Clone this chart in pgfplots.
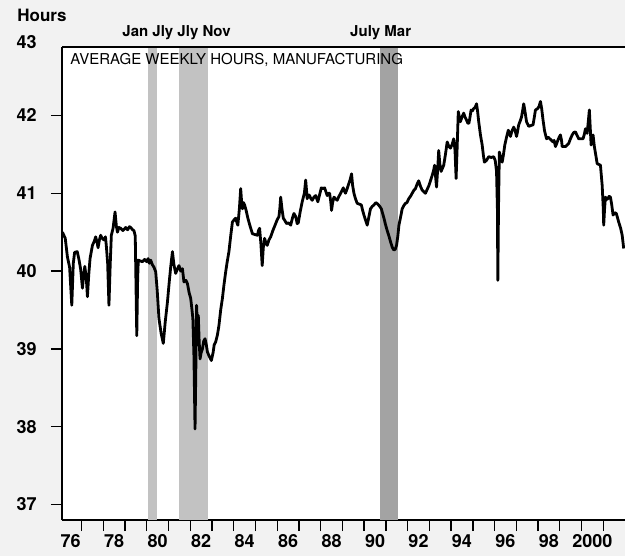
\documentclass[border=0pt]{standalone}
\usepackage{pgfplots}
\pgfplotsset{compat=1.18}
\usepackage{fontspec}
\setmainfont{TeX Gyre Heros}
\usetikzlibrary{backgrounds}

\pgfplotstableread{
year hours
1976.12 40.50
1976.25 40.42
1976.35 40.18
1976.45 40.05
1976.55 39.56
1976.62 40.10
1976.68 40.24
1976.80 40.25
1976.88 40.15
1976.96 40.02
1977.04 39.78
1977.10 39.95
1977.15 40.06
1977.22 39.90
1977.27 39.67
1977.33 39.95
1977.39 40.16
1977.50 40.33
1977.58 40.38
1977.65 40.44
1977.72 40.36
1977.76 40.30
1977.82 40.40
1977.88 40.46
1977.95 40.42
1978.03 40.40
1978.10 40.44
1978.14 40.32
1978.20 40.10
1978.26 39.56
1978.32 40.10
1978.37 40.46
1978.45 40.55
1978.54 40.76
1978.60 40.58
1978.65 40.50
1978.72 40.56
1978.80 40.55
1978.90 40.52
1979.03 40.56
1979.12 40.53
1979.20 40.57
1979.26 40.56
1979.35 40.53
1979.41 40.52
1979.47 40.45
1979.54 39.17
1979.58 39.90
1979.61 40.14
1979.70 40.13
1979.80 40.12
1979.90 40.15
1980.00 40.12
1980.06 40.16
1980.12 40.10
1980.18 40.14
1980.26 40.08
1980.33 40.05
1980.41 39.99
1980.48 39.75
1980.56 39.39
1980.66 39.20
1980.76 39.07
1980.85 39.35
1980.95 39.60
1981.03 39.85
1981.10 40.05
1981.18 40.25
1981.25 40.08
1981.33 39.97
1981.40 40.02
1981.48 40.07
1981.56 40.00
1981.64 40.03
1981.71 39.86
1981.80 39.88
1981.87 39.84
1981.95 39.72
1982.02 39.65
1982.08 39.50
1982.12 39.39
1982.17 38.90
1982.22 37.97
1982.26 38.80
1982.29 39.56
1982.33 39.30
1982.37 39.43
1982.41 39.10
1982.45 38.87
1982.50 38.95
1982.56 39.00
1982.62 39.10
1982.68 39.13
1982.74 39.05
1982.79 38.96
1982.88 38.90
1982.97 38.85
1983.05 38.95
1983.10 39.05
1983.17 39.09
1983.25 39.18
1983.32 39.30
1983.40 39.50
1983.48 39.65
1983.55 39.82
1983.63 39.99
1983.70 40.12
1983.78 40.25
1983.86 40.45
1983.94 40.63
1984.02 40.66
1984.09 40.68
1984.15 40.62
1984.19 40.59
1984.26 40.80
1984.32 41.06
1984.36 40.90
1984.40 40.80
1984.45 40.88
1984.50 40.85
1984.57 40.78
1984.65 40.68
1984.75 40.58
1984.86 40.48
1984.97 40.47
1985.09 40.46
1985.14 40.52
1985.19 40.55
1985.25 40.35
1985.31 40.07
1985.36 40.30
1985.42 40.42
1985.48 40.36
1985.54 40.33
1985.62 40.40
1985.70 40.44
1985.80 40.52
1985.93 40.61
1986.00 40.66
1986.08 40.70
1986.12 40.80
1986.16 40.95
1986.22 40.80
1986.28 40.68
1986.35 40.65
1986.43 40.61
1986.52 40.62
1986.62 40.59
1986.70 40.68
1986.77 40.74
1986.85 40.70
1986.92 40.61
1986.97 40.62
1987.05 40.75
1987.15 40.89
1987.25 41.00
1987.31 41.17
1987.38 40.93
1987.44 40.98
1987.49 40.97
1987.55 40.93
1987.61 40.91
1987.69 40.95
1987.77 40.97
1987.87 40.89
1987.95 40.98
1988.03 41.07
1988.10 41.06
1988.18 41.07
1988.24 41.02
1988.30 40.97
1988.36 41.00
1988.41 41.00
1988.46 40.90
1988.50 40.78
1988.55 40.88
1988.61 40.95
1988.68 40.93
1988.76 40.91
1988.84 40.96
1988.92 41.00
1989.04 41.07
1989.09 41.03
1989.14 41.00
1989.22 41.06
1989.30 41.13
1989.36 41.18
1989.42 41.25
1989.47 41.10
1989.53 41.00
1989.60 40.93
1989.68 40.87
1989.78 40.86
1989.87 40.85
1989.93 40.78
1989.99 40.72
1990.07 40.65
1990.14 40.59
1990.22 40.70
1990.29 40.80
1990.37 40.83
1990.45 40.85
1990.54 40.88
1990.63 40.86
1990.72 40.83
1990.79 40.80
1990.85 40.74
1990.91 40.68
1990.98 40.60
1991.06 40.52
1991.14 40.45
1991.21 40.38
1991.30 40.30
1991.37 40.27
1991.43 40.28
1991.49 40.33
1991.55 40.45
1991.60 40.59
1991.68 40.70
1991.75 40.80
1991.82 40.84
1991.90 40.87
1991.97 40.88
1992.05 40.93
1992.13 40.96
1992.21 41.00
1992.29 41.04
1992.36 41.06
1992.44 41.12
1992.51 41.16
1992.59 41.09
1992.67 41.04
1992.74 41.02
1992.82 41.00
1992.90 41.05
1992.98 41.10
1993.05 41.16
1993.13 41.23
1993.20 41.30
1993.24 41.36
1993.29 41.20
1993.33 41.08
1993.38 41.30
1993.43 41.55
1993.48 41.38
1993.54 41.28
1993.60 41.32
1993.66 41.36
1993.74 41.50
1993.82 41.66
1993.90 41.60
1993.97 41.58
1994.05 41.63
1994.12 41.70
1994.18 41.55
1994.23 41.19
1994.28 41.60
1994.33 42.05
1994.38 41.98
1994.43 41.92
1994.50 41.98
1994.58 42.03
1994.64 41.98
1994.71 41.94
1994.77 41.90
1994.82 41.90
1994.87 41.98
1994.92 42.07
1994.98 42.06
1995.04 42.09
1995.10 42.10
1995.17 42.15
1995.22 42.05
1995.27 41.92
1995.35 41.75
1995.43 41.62
1995.48 41.50
1995.53 41.40
1995.62 41.42
1995.73 41.47
1995.85 41.46
1995.96 41.47
1996.03 41.42
1996.09 41.28
1996.13 40.80
1996.15 39.88
1996.18 40.80
1996.22 41.53
1996.29 41.45
1996.35 41.40
1996.41 41.50
1996.47 41.62
1996.55 41.72
1996.63 41.81
1996.68 41.78
1996.73 41.73
1996.80 41.80
1996.88 41.85
1996.95 41.80
1997.01 41.73
1997.06 41.80
1997.11 41.88
1997.18 41.93
1997.24 41.98
1997.30 42.08
1997.34 42.15
1997.40 42.05
1997.47 41.92
1997.57 41.86
1997.67 41.87
1997.77 41.88
1997.83 41.98
1997.88 42.07
1997.99 42.09
1998.05 42.12
1998.11 42.18
1998.17 42.08
1998.23 41.94
1998.30 41.80
1998.39 41.70
1998.47 41.72
1998.54 41.70
1998.62 41.68
1998.69 41.66
1998.74 41.68
1998.80 41.60
1998.86 41.64
1998.91 41.68
1998.97 41.72
1999.03 41.75
1999.08 41.68
1999.11 41.60
1999.19 41.60
1999.26 41.60
1999.34 41.62
1999.41 41.64
1999.49 41.70
1999.57 41.75
1999.64 41.78
1999.72 41.79
1999.80 41.74
1999.87 41.70
1999.97 41.70
2000.07 41.70
2000.13 41.76
2000.18 41.83
2000.26 41.77
2000.32 41.95
2000.36 42.07
2000.40 41.85
2000.44 41.62
2000.49 41.70
2000.53 41.75
2000.59 41.60
2000.65 41.50
2000.72 41.38
2000.80 41.37
2000.87 41.36
2000.95 41.10
2001.00 40.80
2001.02 40.59
2001.06 40.80
2001.10 40.95
2001.16 40.92
2001.21 40.93
2001.27 40.96
2001.33 40.95
2001.39 40.85
2001.45 40.72
2001.53 40.75
2001.60 40.74
2001.66 40.68
2001.71 40.63
2001.80 40.55
2001.87 40.46
2001.94 40.29
}\hoursdata

\begin{document}
\begin{tikzpicture}
\begin{axis}[
  name=ax,
  scale only axis,
  width=281.5pt, height=236.5pt,
  xmin=1976.1, xmax=2002,
  ymin=36.8, ymax=42.88,
  axis x line*=bottom, axis y line*=left,
  axis line style={line width=1pt},
  axis background/.style={fill=white},
  clip=false,
  tick align=outside,
  major tick length=5.5pt,
  tick style={black, line width=0.7pt},
  xtick={1977,1978,...,2001}, xticklabels={},
  extra x ticks={1976.5,1978.5,1980.5,1982.5,1984.5,1986.5,1988.5,1990.5,1992.5,1994.5,1996.5,1998.5,2000.5},
  extra x tick labels={76,78,80,82,84,86,88,90,92,94,96,98,2000},
  extra x tick style={major tick length=0pt},
  ytick={37,38,...,42},
  /pgf/number format/assume math mode=true,
  ticklabel style={font=\bfseries\fontsize{9}{10}\selectfont},
  xticklabel style={inner sep=0pt, yshift=-7pt},
  yticklabel style={inner sep=0pt, xshift=-7pt},
]
% recession shading
\addplot[fill=black!24, draw=none] coordinates {(1980.05,36.8) (1980.05,42.88) (1980.47,42.88) (1980.47,36.8)} -- cycle;
\addplot[fill=black!24, draw=none] coordinates {(1981.5,36.8) (1981.5,42.88) (1982.83,42.88) (1982.83,36.8)} -- cycle;
\addplot[fill=black!36, draw=none] coordinates {(1990.72,36.8) (1990.72,42.88) (1991.55,42.88) (1991.55,36.8)} -- cycle;

\addplot[black, line width=1.4pt, line join=round] table[x=year, y=hours] {\hoursdata};

\draw[line width=1pt] (rel axis cs:0,1) -- (rel axis cs:1,1);

\node[anchor=north west, inner sep=0pt, font=\fontsize{7.5}{9}\selectfont] at ([xshift=4pt,yshift=-3pt]rel axis cs:0,1) {AVERAGE WEEKLY HOURS, MANUFACTURING};
\node[anchor=base, inner sep=0pt, font=\bfseries\fontsize{7.5}{9}\selectfont] at ([yshift=5pt]axis cs:1981.37,42.88) {Jan Jly Jly Nov};
\node[anchor=base, inner sep=0pt, font=\bfseries\fontsize{7.5}{9}\selectfont] at ([yshift=5pt]axis cs:1990.76,42.88) {July Mar};
\node[anchor=base west, inner sep=0pt, font=\bfseries\fontsize{8.5}{10}\selectfont] at ([xshift=-22.5pt,yshift=12.5pt]rel axis cs:0,1) {Hours};
\node[anchor=east, inner sep=0pt, font=\bfseries\fontsize{9}{10}\selectfont] at ([xshift=-12.5pt,yshift=2.5pt]rel axis cs:0,1) {43};
\end{axis}
\begin{scope}[on background layer]
\fill[black!5] ([xshift=-31pt,yshift=-18pt]ax.south west) rectangle ([yshift=23.5pt]ax.north east);
\end{scope}
\pgfresetboundingbox
\path ([xshift=-31pt,yshift=-18pt]ax.south west) rectangle ([yshift=23.5pt]ax.north east);
\end{tikzpicture}
\end{document}
